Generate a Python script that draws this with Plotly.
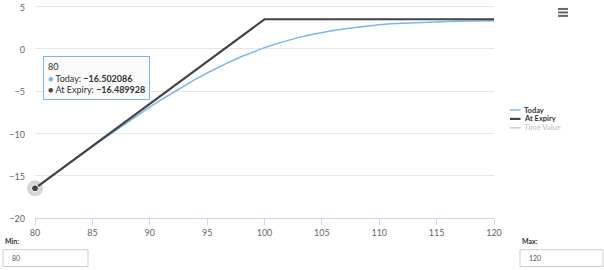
import plotly.graph_objects as go

# ---- data ----
prices = [80, 81, 82, 83, 84, 85, 86, 87, 88, 89, 90, 91, 92, 93, 94, 95, 96, 97, 98, 99, 100,
          101, 102, 103, 104, 105, 106, 107, 108, 109, 110, 111, 112, 113, 114, 115, 116, 117, 118, 119, 120]
today = [-16.502086, -15.50, -14.51, -13.52, -12.54, -11.57, -10.61, -9.66, -8.71, -7.79, -6.89,
         -6.01, -5.17, -4.36, -3.58, -2.85, -2.15, -1.51, -0.90, -0.34, 0.15,
         0.60, 1.00, 1.37, 1.68, 1.95, 2.18, 2.39, 2.57, 2.73, 2.86,
         2.97, 3.04, 3.11, 3.16, 3.21, 3.24, 3.27, 3.29, 3.31, 3.33]
expiry_x = [80, 100, 120]
expiry = [-16.489928, 3.510072, 3.510072]
y_ticks = [5, 0, -5, -10, -15, -20]
x_ticks = [80, 85, 90, 95, 100, 105, 110, 115, 120]
series_names = ["Today", "At Expiry", "Time Value"]
min_value = "80"
max_value = "120"

C_TODAY = "#7cb5ec"
C_EXP = "#434348"
C_HIDDEN = "#cccccc"
FONT = "Lato, 'Open Sans', sans-serif"

TOP = 2.0
BOTTOM = 218.0
PLOT_H = BOTTOM - TOP


def px_x(p):
    return (p - 35) / 459


def px_y(p):
    return (BOTTOM - p) / PLOT_H


fig = go.Figure()
fig.add_trace(go.Scatter(x=prices, y=today, mode="lines", name=series_names[0],
                         line=dict(color=C_TODAY, width=1.5), cliponaxis=False))
fig.add_trace(go.Scatter(x=expiry_x, y=expiry, mode="lines", name=series_names[1],
                         line=dict(color=C_EXP, width=2.2), cliponaxis=False))
# hover halo + point
fig.add_trace(go.Scatter(x=[expiry_x[0]], y=[expiry[0]], mode="markers", cliponaxis=False,
                         marker=dict(size=16, color="rgba(67,67,72,0.22)", line=dict(width=0))))
fig.add_trace(go.Scatter(x=[expiry_x[0]], y=[expiry[0]], mode="markers", cliponaxis=False,
                         marker=dict(size=7, color=C_EXP, line=dict(width=1, color="white"))))

tip = (f"<span style='font-size:8px'>{prices[0]}</span><br>"
       f"<span style='color:{C_TODAY}'>●</span> Today: <b>{today[0]:.6f}</b><br>"
       f"<span style='color:{C_EXP}'>●</span> At Expiry: <b>{expiry[0]:.6f}</b>").replace("-", "−")

annotations = [
    dict(xref="paper", yref="paper", x=px_x(43), y=px_y(54), xanchor="left", yanchor="top",
         text=tip, showarrow=False, align="left", font=dict(family=FONT, size=9, color="#333"),
         bgcolor="rgba(250,250,250,0.9)", bordercolor=C_TODAY, borderwidth=1, borderpad=4),
    dict(xref="paper", yref="paper", x=px_x(3), y=px_y(241), xanchor="left", yanchor="middle",
         text="<b>Min:</b>", showarrow=False, font=dict(family=FONT, size=7, color="#333")),
    dict(xref="paper", yref="paper", x=px_x(520), y=px_y(241), xanchor="left", yanchor="middle",
         text="<b>Max:</b>", showarrow=False, font=dict(family=FONT, size=7, color="#333")),
    dict(xref="paper", yref="paper", x=px_x(10), y=px_y(258), xanchor="left", yanchor="middle",
         text=min_value, showarrow=False, font=dict(family=FONT, size=7, color="#555")),
    dict(xref="paper", yref="paper", x=px_x(527), y=px_y(258), xanchor="left", yanchor="middle",
         text=max_value, showarrow=False, font=dict(family=FONT, size=7, color="#555")),
]

shapes = [
    dict(type="rect", xref="paper", yref="paper", x0=px_x(3), x1=px_x(88), y0=px_y(267), y1=px_y(250),
         line=dict(color="#cccccc", width=1), fillcolor="white", layer="above"),
    dict(type="rect", xref="paper", yref="paper", x0=px_x(520), x1=px_x(603), y0=px_y(267), y1=px_y(250),
         line=dict(color="#cccccc", width=1), fillcolor="white", layer="above"),
]
for yy in (7, 10.5, 14):
    shapes.append(dict(type="line", xref="paper", yref="paper", x0=px_x(558), x1=px_x(568),
                       y0=px_y(yy), y1=px_y(yy), line=dict(color="#666", width=2)))

# custom compact legend
legend_colors = [C_TODAY, C_EXP, C_HIDDEN]
legend_widths = [1.5, 2.2, 1.5]
legend_text_colors = ["#333333", "#333333", C_HIDDEN]
for i, name in enumerate(series_names):
    yy = 109 + i * 9
    shapes.append(dict(type="line", xref="paper", yref="paper", x0=px_x(510), x1=px_x(520.5),
                       y0=px_y(yy), y1=px_y(yy),
                       line=dict(color=legend_colors[i], width=legend_widths[i])))
    annotations.append(dict(xref="paper", yref="paper", x=px_x(522.5), y=px_y(yy),
                            xanchor="left", yanchor="middle", text=f"<b>{name}</b>",
                            showarrow=False, borderpad=0,
                            font=dict(family=FONT, size=7.5, color=legend_text_colors[i])))

y_top = 5 + (4.7 - TOP) / ((BOTTOM - 4.7) / 25)

fig.update_layout(
    width=604, height=270,
    margin=dict(l=35, r=110, t=TOP, b=270 - BOTTOM),
    paper_bgcolor="white", plot_bgcolor="white",
    font=dict(family=FONT, size=9, color="#666"),
    showlegend=False,
    annotations=annotations, shapes=shapes,
    xaxis=dict(range=[80, 120], tickvals=x_ticks, showgrid=False, zeroline=False,
               showline=True, linecolor="#ccd6eb", linewidth=1, ticks="outside",
               tickcolor="#ccd6eb", ticklen=6, tickfont=dict(size=9, color="#666")),
    yaxis=dict(range=[-20, y_top], tickvals=y_ticks, showgrid=True, gridcolor="#e6e6e6",
               zeroline=False, showline=False, ticks="", ticklabelstandoff=9,
               ticklabelshift=1, ticklabeloverflow="allow",
               tickfont=dict(size=9, color="#666")),
)
fig.write_html("out.html")
